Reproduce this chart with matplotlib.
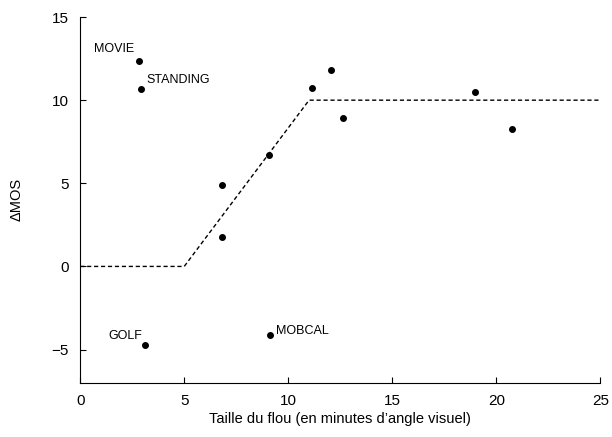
import matplotlib
matplotlib.use('Agg')
import matplotlib.pyplot as plt

plt.rcParams['font.family'] = ['Liberation Sans', 'DejaVu Sans']

# points (taille du flou, delta MOS)
blur = [2.84, 2.93, 3.13, 9.13, 6.83, 6.83, 9.09, 11.15, 12.07, 12.64, 18.99, 20.77]
dmos = [12.36, 10.68, -4.74, -4.14, 4.92, 1.80, 6.72, 10.74, 11.82, 8.94, 10.5, 8.28]
names = ['MOVIE', 'STANDING', 'GOLF', 'MOBCAL', '', '', '', '', '', '', '', '']

# modele seuil / saturation
model_x = [0, 5, 11, 25]
model_y = [0, 0, 10, 10]

fig = plt.figure(figsize=(6.12, 4.37), dpi=100)
ax = fig.add_axes([0.131, 0.124, 0.850, 0.837])

ax.plot(model_x, model_y, 'k--', lw=1, dashes=(3, 2))
ax.plot(blur, dmos, 'ko', ms=4)

# decalage des etiquettes (en points)
offsets = {'MOVIE': (-4, 4, 'right'), 'GOLF': (-2, 2, 'right'),
           'STANDING': (4, 2, 'left'), 'MOBCAL': (4, -1, 'left')}
for x, y, n in zip(blur, dmos, names):
    if n == '':
        continue
    dx, dy, ha = offsets[n]
    ax.annotate(n, (x, y), xytext=(dx, dy), textcoords='offset points',
                ha=ha, va='bottom', fontsize=9)

ax.set_xlim(0, 25)
ax.set_ylim(-7, 15)
ax.set_xticks([0, 5, 10, 15, 20, 25])
ax.set_yticks([-5, 0, 5, 10, 15])
ax.set_yticklabels(['\u22125', '0', '5', '10', '15'])
ax.spines['top'].set_visible(False)
ax.spines['right'].set_visible(False)
ax.tick_params(direction='in', labelsize=11, length=4)
ax.tick_params(axis='x', pad=8)
ax.tick_params(axis='y', pad=8)
ax.set_xlabel("Taille du flou (en minutes d\u2019angle visuel)", fontsize=10.5, labelpad=3)
ax.set_ylabel("\u0394MOS", fontsize=10.5, labelpad=20)

fig.savefig('out.png', dpi=100)
